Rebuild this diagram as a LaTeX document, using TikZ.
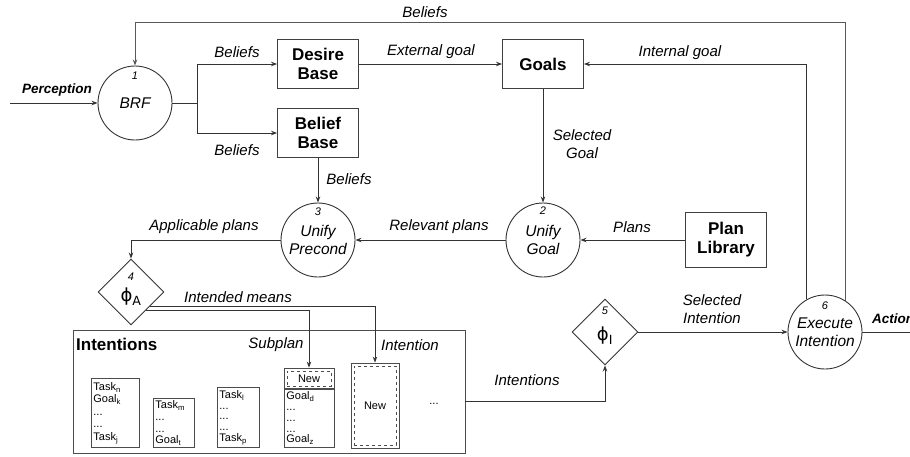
\documentclass[tikz,border=0pt]{standalone}
\usepackage{fontspec}
\setmainfont{Liberation Sans}
\newfontfamily\phifont{DejaVu Sans}
\usetikzlibrary{shapes.geometric,arrows.meta,calc}
\begin{document}
\begin{tikzpicture}[x=1pt,y=-1pt,
  line/.style={draw=black!80, line width=0.9pt},
  arr/.style={line, -{Stealth[length=6pt,width=4.5pt]}},
  box/.style={draw=black!75, line width=0.9pt, minimum width=81pt, minimum height=49pt, font=\fontsize{17}{19}\selectfont\bfseries, align=center, inner sep=0pt},
  circ/.style={circle, draw=black!80, line width=0.9pt, minimum size=74pt, inner sep=0pt, font=\fontsize{15.5}{18}\selectfont\itshape, align=center},
  dia/.style={diamond, draw=black!80, line width=0.9pt, minimum width=66pt, minimum height=66pt, inner sep=0pt},
  lbl/.style={font=\fontsize{15}{18}\selectfont\itshape, inner sep=0pt, align=center},
  blbl/.style={font=\fontsize{13.5}{16}\selectfont\bfseries\itshape, inner sep=0pt},
  num/.style={font=\fontsize{11}{12}\selectfont\itshape, inner sep=0pt},
  phi/.style={font=\fontsize{18}{20}\selectfont\phifont, inner sep=0pt},
  frame/.style={draw=black!70, line width=0.8pt, inner sep=0pt},
  dbox/.style={draw=black!70, dashed, line width=0.6pt, inner sep=0pt, font=\fontsize{11}{12}\selectfont},
  small/.style={draw=black!70, line width=0.8pt, font=\fontsize{11}{11.8}\selectfont, align=left, inner sep=2pt, anchor=south west},
]
\useasboundingbox (0,0) rectangle (910,456);
% main nodes
\node[circ] (brf) at (135,103) {BRF};
\node[num] (n1) at (135,76) {1};
\node[box] (desire) at (318,64) {Desire\\Base};
\node[box] (belief) at (318,133) {Belief\\Base};
\node[box] (goals) at (543,64) {Goals};
\node[circ] (precond) at (318,240) {Unify\\Precond};
\node[num] (n3) at (318,212) {3};
\node[circ] (ugoal) at (543,240) {Unify\\Goal};
\node[num] (n2) at (543,211) {2};
\node[box, minimum height=55pt] (plib) at (726,240) {Plan\\Library};
\node[dia] (phia) at (131,292) {};
\node[num] (n4) at (131,277) {4};
\node[phi] (phiat) at (131,297) {ϕ\textsubscript{A}};
\node[dia] (phii) at (605,332) {};
\node[num] (n5) at (605,311) {5};
\node[phi] (phiit) at (605,336) {ϕ\textsubscript{I}};
\node[circ] (exec) at (825,332) {Execute\\Intention};
\node[num] (n6) at (825,306) {6};
% intentions container
\node[frame, line width=0.9pt, minimum width=392pt, minimum height=123pt] (intbox) at (269,391.5) {};
\node[font=\fontsize{17}{19}\selectfont\bfseries, anchor=west, inner sep=0pt] (inttitle) at (76,344) {Intentions};
\node[small, text width=44pt, minimum height=69pt, font=\fontsize{11}{12.5}\selectfont] (s1) at (91,448) {Task\textsubscript{n}\\Goal\textsubscript{k}\\...\\...\\Task\textsubscript{j}};
\node[small, text width=37pt, minimum height=49pt] (s2) at (153,448) {Task\textsubscript{m}\\...\\...\\Goal\textsubscript{t}};
\node[small, text width=38pt, minimum height=60pt, font=\fontsize{11}{10.8}\selectfont] (s3) at (217,448) {Task\textsubscript{l}\\...\\...\\...\\Task\textsubscript{p}};
\node[small, text width=46pt, minimum height=59pt, font=\fontsize{11}{10.8}\selectfont] (s4) at (284,448) {Goal\textsubscript{d}\\...\\...\\...\\Goal\textsubscript{z}};
\node[frame, minimum width=50pt, minimum height=21pt] (subtop) at (309,378.5) {};
\node[dbox, minimum width=44pt, minimum height=15pt] (subnew) at (subtop) {New};
\node[frame, minimum width=48pt, minimum height=85pt] (intn) at (375,405.5) {};
\node[dbox, minimum width=42pt, minimum height=79pt] (intnew) at (intn) {New};
\node[font=\fontsize{11}{12}\selectfont, inner sep=0pt] (dots) at (434,404) {...};
% labels
\node[lbl] (l1) at (425,12) {Beliefs};
\node[blbl] (l2) at (57,90) {Perception};
\node[lbl] (l3) at (237,52) {Beliefs};
\node[lbl] (l4) at (237,150) {Beliefs};
\node[lbl] (l5) at (431,52) {External goal};
\node[lbl] (l6) at (680,53) {Internal goal};
\node[lbl] (l7) at (582,144) {Selected\\Goal};
\node[lbl] (l8) at (349,179) {Beliefs};
\node[lbl] (l9) at (204,227) {Applicable plans};
\node[lbl] (l10) at (439,227) {Relevant plans};
\node[lbl] (l11) at (632,227) {Plans};
\node[lbl] (l12) at (238,297) {Intended means};
\node[lbl] (l13) at (276,345) {Subplan};
\node[lbl] (l14) at (410,345) {Intention};
\node[lbl] (l15) at (527,380) {Intentions};
\node[lbl] (l16) at (712,309) {Selected\\Intention};
\node[blbl, anchor=west] (l17) at (872,319) {Action};
% connectors
\coordinate (pin) at (10,103);
\draw[arr] (pin) -- (brf);
\coordinate (split) at (197,103);
\draw[line] (brf) -- (split);
\draw[arr] (split) |- (desire);
\draw[arr] (split) |- (belief);
\draw[arr] (desire) -- (goals);
\draw[arr] (belief) -- (precond);
\draw[arr] (goals) -- (ugoal);
\draw[arr] (plib) -- (ugoal);
\draw[arr] (ugoal) -- (precond);
\draw[arr] (precond) -| (phia);
\draw[arr] ($(phia.east)!0.43!(phia.south)$) -| (intn.north);
\draw[arr] ($(phia.east)!0.55!(phia.south)$) -| (subtop.north);
\draw[arr] ([yshift=-10pt]intbox.east) -| (phii.south);
\draw[arr] (phii) -- (exec);
\coordinate (aout) at (915,332);
\draw[line] (exec) -- (aout);
\draw[arr] (exec.119) |- (goals);
\coordinate (lt) at (135,22);
\draw[arr, draw=black!65] (exec.57) |- (lt) -- (brf);
\end{tikzpicture}
\end{document}
